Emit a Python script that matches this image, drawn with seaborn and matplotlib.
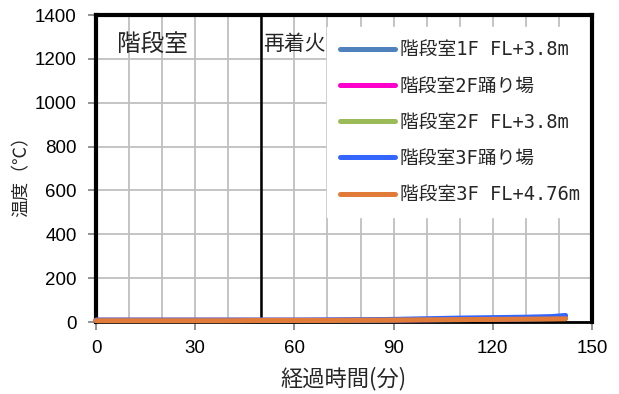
import matplotlib
matplotlib.use("Agg")
import matplotlib.pyplot as plt
import seaborn as sns
import pandas as pd

sns.set_theme(style="white")
plt.rcParams['font.family'] = ['Liberation Sans', 'Noto Sans CJK JP', 'DejaVu Sans']

time_min = [0, 10, 20, 30, 40, 50, 60, 70, 80, 90, 100, 110, 120, 130, 138, 142]
s1f = [8, 8, 8, 8, 8, 8, 8, 8, 9, 9, 10, 11, 12, 14, 16, 18]
s2f_landing = [8, 8, 8, 8, 8, 8, 8, 8, 9, 10, 11, 12, 14, 16, 18, 20]
s2f = [8, 8, 8, 8, 8, 8, 8, 8, 9, 10, 12, 13, 15, 17, 19, 22]
s3f_landing = [8, 8, 8, 8, 8, 8, 8, 9, 10, 12, 15, 18, 20, 22, 25, 30]
s3f = [6, 6, 6, 6, 6, 7, 7, 7, 8, 9, 10, 11, 12, 13, 14, 15]

labels = ["階段室1F FL+3.8m", "階段室2F踊り場", "階段室2F FL+3.8m", "階段室3F踊り場", "階段室3F FL+4.76m"]
colors = ["#4F81BD", "#FF00CC", "#9BBB59", "#3366FF", "#E07B39"]
series = [s1f, s2f_landing, s2f, s3f_landing, s3f]

frames = []
for lab, vals in zip(labels, series):
    frames.append(pd.DataFrame({"t": time_min, "v": vals, "s": lab}))
df = pd.concat(frames, ignore_index=True)

fig = plt.figure(figsize=(6.19, 3.94), dpi=100)
ax = fig.add_axes([0.1551, 0.1827, 0.8013, 0.7792])

sns.lineplot(data=df, x="t", y="v", hue="s", hue_order=labels, palette=colors,
             linewidth=3.6, ax=ax, legend=False, zorder=3)
for ln in ax.lines:
    ln.set_clip_on(False)
    ln.set_solid_capstyle("round")

ax.set_xlim(0, 150)
ax.set_ylim(0, 1400)
ax.set_xticks(range(0, 151, 30))
ax.set_xticks(range(0, 151, 10), minor=True)
ax.set_yticks(range(0, 1401, 200))
ax.grid(True, which="both", axis="x", color="#BFBFBF", linewidth=1.3)
ax.grid(True, which="major", axis="y", color="#BFBFBF", linewidth=1.3)
ax.set_axisbelow(True)

for side in ["top", "right", "left"]:
    ax.spines[side].set_color("black")
    ax.spines[side].set_linewidth(3)
ax.spines["bottom"].set_color("black")
ax.spines["bottom"].set_linewidth(2)

ax.tick_params(axis="x", which="major", direction="out", length=6, width=1.2, color="#808080",
               labelsize=13.5, pad=7, bottom=True)
ax.tick_params(axis="x", which="minor", length=0)
ax.tick_params(axis="y", direction="out", length=6, width=1.2, color="#808080",
               labelsize=13.5, pad=8, left=True)
for t in ax.get_xticklabels() + ax.get_yticklabels():
    t.set_color("black")

ax.set_xlabel("経過時間(分)", fontsize=16, family=['Noto Sans CJK JP'])
ax.set_ylabel("温度（℃）", fontsize=13, family=['Noto Sans CJK JP'])
ax.xaxis.label.set_va("center")
ax.xaxis.set_label_coords(0.5, -0.185)
ax.yaxis.label.set_va("center")
ax.yaxis.label.set_ha("center")
ax.yaxis.set_label_coords(-0.15, 0.49)

ax.axvline(50, color="black", linewidth=1.8, zorder=2.6)
ax.text(6.4, 1263, "階段室", fontsize=17, family=['Noto Sans CJK JP'], va="center")
ax.text(50.4, 1270, "再着火", fontsize=15, family=['Noto Sans CJK JP'], va="center")

handles = [plt.Line2D([], [], color=c, linewidth=3.6, solid_capstyle="round") for c in colors]
leg = ax.legend(handles, labels, loc="upper left",
                bbox_to_anchor=(327 / 619, 1 - 27 / 394), bbox_transform=fig.transFigure,
                borderaxespad=0,
                frameon=True, fancybox=False, framealpha=1, edgecolor="white",
                prop={"family": ['DejaVu Sans Mono', 'Noto Sans CJK JP'], "size": 13.5},
                handlelength=2.9, handletextpad=0.27, labelspacing=0.92,
                borderpad=0.7)
leg.set_zorder(2.4)

fig.savefig("out.png", dpi=100, facecolor="white")
